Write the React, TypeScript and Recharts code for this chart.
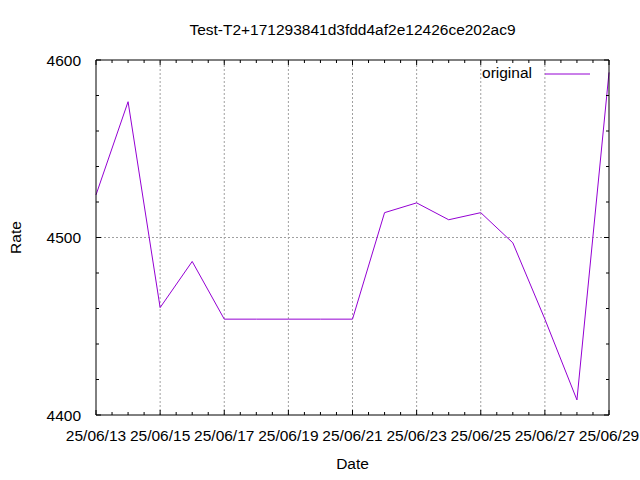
import React from 'react'
import { LineChart, Line, XAxis, YAxis, ReferenceLine, Label, Legend } from 'recharts'

// daily rates, 25/06/13 .. 25/06/29
const dates = [
  '25/06/13', '25/06/14', '25/06/15', '25/06/16', '25/06/17', '25/06/18',
  '25/06/19', '25/06/20', '25/06/21', '25/06/22', '25/06/23', '25/06/24',
  '25/06/25', '25/06/26', '25/06/27', '25/06/28', '25/06/29',
]
const rates = [
  4524, 4576.5, 4460.5, 4486.5, 4454, 4454, 4454, 4454, 4454,
  4514, 4519.5, 4510, 4514, 4497, 4454, 4408.5, 4593,
]
const xMajor = [0, 2, 4, 6, 8, 10, 12, 14, 16]
const xMinor = [
  0, 0.5, 1, 1.5, 2, 2.5, 3, 3.5, 4, 4.5, 5, 5.5, 6, 6.5, 7, 7.5, 8,
  8.5, 9, 9.5, 10, 10.5, 11, 11.5, 12, 12.5, 13, 13.5, 14, 14.5, 15, 15.5, 16,
]
const yMajor = [4400, 4500, 4600]
const yMinor = [4400, 4420, 4440, 4460, 4480, 4500, 4520, 4540, 4560, 4580, 4600]

const data = dates.map((d, i) => ({ day: i, date: d, rate: rates[i] }))

const FONT = '"Liberation Sans", Arial, sans-serif'
const FS = 15.5
const LINE_COLOR = '#9400d3'
const GRID = '#a0a0a0'

const txt = { fontFamily: FONT, fontSize: FS, fill: '#000' }

function BottomTick(props: any) {
  const { x, y, payload } = props
  const major = xMajor.includes(payload.value)
  return (
    <g>
      <line x1={x} x2={x} y1={y} y2={y - (major ? 5 : 3)} stroke="#000" />
      {major && (
        <text x={x} y={y + 26} textAnchor="middle" style={txt}>
          {dates[payload.value]}
        </text>
      )}
    </g>
  )
}

function TopTick(props: any) {
  const { x, y, payload } = props
  const major = xMajor.includes(payload.value)
  return <line x1={x} x2={x} y1={y} y2={y + (major ? 5 : 3)} stroke="#000" />
}

function LeftTick(props: any) {
  const { x, y, payload } = props
  const major = yMajor.includes(payload.value)
  return (
    <g>
      <line x1={x} x2={x + (major ? 5 : 3)} y1={y} y2={y} stroke="#000" />
      {major && (
        <text x={x - 15} y={y + 5.5} textAnchor="end" style={txt}>
          {payload.value}
        </text>
      )}
    </g>
  )
}

function RightTick(props: any) {
  const { x, y, payload } = props
  const major = yMajor.includes(payload.value)
  return <line x1={x} x2={x - (major ? 5 : 3)} y1={y} y2={y} stroke="#000" />
}

function LegendBox() {
  return (
    <div style={{ position: 'relative', width: 640, height: 0 }}>
      <span
        style={{
          position: 'absolute',
          right: 640 - 532,
          top: 64,
          fontFamily: FONT,
          fontSize: FS,
          lineHeight: '18px',
          color: '#000',
          whiteSpace: 'nowrap',
        }}
      >
        original
      </span>
      <svg style={{ position: 'absolute', left: 545, top: 70 }} width={45} height={8}>
        <line x1={0} x2={45} y1={4} y2={4} stroke={LINE_COLOR} strokeWidth={1} />
      </svg>
    </div>
  )
}

export default function App() {
  return (
    <div style={{ position: 'absolute', left: 0, top: 0, width: 640, height: 480, background: '#fff' }}>
      <LineChart width={640} height={480} data={data} margin={{ top: 59, right: 30, bottom: 0, left: 0 }}>
        <XAxis
          dataKey="day"
          type="number"
          domain={[0, 16]}
          ticks={xMinor}
          interval={0}
          tick={BottomTick}
          tickLine={false}
          tickSize={0}
          tickMargin={0}
          height={65}
          axisLine={{ stroke: '#000' }}
        >
          <Label value="Date" position="insideBottom" offset={11} style={txt} />
        </XAxis>
        <XAxis
          xAxisId="top"
          dataKey="day"
          orientation="top"
          type="number"
          domain={[0, 16]}
          allowDataOverflow
          ticks={xMinor}
          interval={0}
          tick={TopTick}
          tickLine={false}
          tickSize={0}
          tickMargin={0}
          height={1}
          axisLine={{ stroke: '#000' }}
        >
          <Label
            content={(p: any) => {
              const vb = p.viewBox || { x: 96, width: 513 }
              return (
                <text x={vb.x + vb.width / 2} y={35} textAnchor="middle" style={txt}>
                  Test-T2+171293841d3fdd4af2e12426ce202ac9
                </text>
              )
            }}
          />
        </XAxis>
        <YAxis
          type="number"
          domain={[4400, 4600]}
          allowDataOverflow
          ticks={yMinor}
          interval={0}
          tick={LeftTick}
          tickLine={false}
          tickSize={0}
          tickMargin={0}
          width={96}
          axisLine={{ stroke: '#000' }}
        >
          <Label
            content={(p: any) => {
              const vb = p.viewBox || { y: 60, height: 355 }
              const cy = vb.y + vb.height / 2
              return (
                <text x={15} y={cy} transform={`rotate(-90 15 ${cy})`} textAnchor="middle" dominantBaseline="central" style={txt}>
                  Rate
                </text>
              )
            }}
          />
        </YAxis>
        <YAxis
          yAxisId="right"
          orientation="right"
          type="number"
          domain={[4400, 4600]}
          allowDataOverflow
          ticks={yMinor}
          interval={0}
          tick={RightTick}
          tickLine={false}
          tickSize={0}
          tickMargin={0}
          width={1}
          axisLine={{ stroke: '#000' }}
        />
        {xMajor.slice(1, -1).map((d) => (
          <ReferenceLine key={'gx' + d} x={d} stroke={GRID} strokeDasharray="2 2" />
        ))}
        <ReferenceLine y={4500} stroke={GRID} strokeDasharray="2 2" />
        <Legend
          layout="horizontal"
          verticalAlign="middle"
          align="center"
          wrapperStyle={{ left: 0, top: 0, width: 640, height: 0 }}
          content={() => <LegendBox />}
        />
        {/* invisible copy so the mirrored top/right axes get drawn */}
        <Line
          xAxisId="top"
          yAxisId="right"
          type="linear"
          dataKey="rate"
          stroke="none"
          dot={false}
          activeDot={false}
          legendType="none"
          isAnimationActive={false}
        />
        <Line
          type="linear"
          dataKey="rate"
          name="original"
          stroke={LINE_COLOR}
          strokeWidth={1}
          dot={false}
          activeDot={false}
          isAnimationActive={false}
        />
      </LineChart>
    </div>
  )
}
